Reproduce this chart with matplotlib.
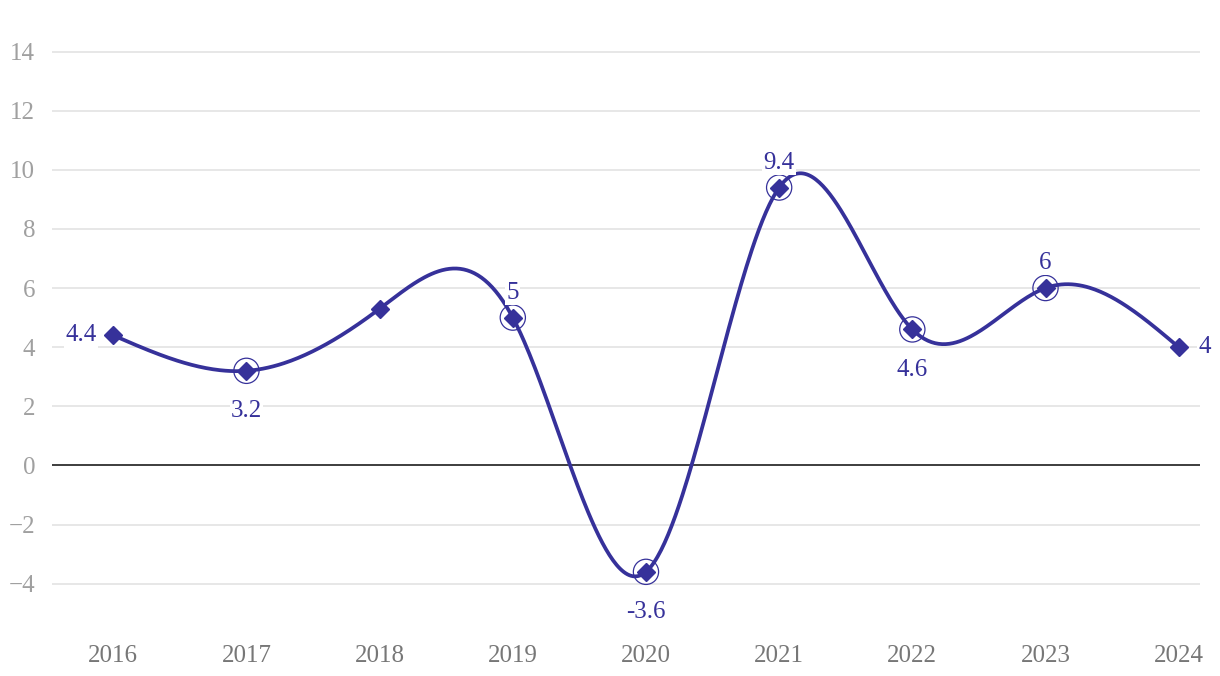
import numpy as np
import matplotlib.pyplot as plt

years = [2016, 2017, 2018, 2019, 2020, 2021, 2022, 2023, 2024]
values = [4.4, 3.2, 5.3, 5.0, -3.6, 9.4, 4.6, 6.0, 4.0]
labels = ['4.4', '3.2', '', '5', '-3.6', '9.4', '4.6', '6', '4']
label_pos = ['left', 'below', None, 'above', 'below', 'above', 'below', 'above', 'right']
circled = [False, True, False, True, True, True, True, True, False]

LINE = '#36319a'


def natural_spline(x, y, n=600):
    # plain natural cubic spline, only used to draw the smooth line
    x = np.asarray(x, float)
    y = np.asarray(y, float)
    k = len(x)
    h = np.diff(x)
    A = np.zeros((k, k))
    b = np.zeros(k)
    A[0, 0] = A[-1, -1] = 1
    for i in range(1, k - 1):
        A[i, i - 1] = h[i - 1]
        A[i, i] = 2 * (h[i - 1] + h[i])
        A[i, i + 1] = h[i]
        b[i] = 3 * ((y[i + 1] - y[i]) / h[i] - (y[i] - y[i - 1]) / h[i - 1])
    c = np.linalg.solve(A, b)
    xs = np.linspace(x[0], x[-1], n)
    idx = np.clip(np.searchsorted(x, xs) - 1, 0, k - 2)
    dx = xs - x[idx]
    hi = h[idx]
    bb = (y[idx + 1] - y[idx]) / hi - hi * (2 * c[idx] + c[idx + 1]) / 3
    d = (c[idx + 1] - c[idx]) / (3 * hi)
    ys = y[idx] + bb * dx + c[idx] * dx ** 2 + d * dx ** 3
    return xs, ys


plt.rcParams['font.family'] = ['Liberation Serif', 'DejaVu Serif']

fig = plt.figure(figsize=(12.2, 6.76), dpi=100)
ax = fig.add_axes([52 / 1220, 1 - 628 / 676, 1148 / 1220, (628 - 22) / 676])

xs, ys = natural_spline(years, values)
ax.plot(xs, ys, color=LINE, lw=2.7, zorder=3, solid_capstyle='round')
ax.plot(years, values, 'D', color=LINE, ms=9.5, zorder=4)

cx = [y for y, c in zip(years, circled) if c]
cy = [v for v, c in zip(values, circled) if c]
ax.scatter(cx, cy, s=330, facecolors='none', edgecolors=LINE, linewidths=0.9, zorder=5)

offsets = {'left': (-12, 0, 'right', 'center'),
           'right': (14, 0, 'left', 'center'),
           'above': (0, 10, 'center', 'bottom'),
           'below': (0, -21, 'center', 'top')}
for yr, v, lab, pos in zip(years, values, labels, label_pos):
    if not lab:
        continue
    dx, dy, ha, va = offsets[pos]
    ax.annotate(lab, (yr, v), xytext=(dx, dy), textcoords='offset points',
                ha=ha, va=va, fontsize=18, color=LINE, zorder=6,
                bbox=dict(boxstyle='square,pad=0.05', fc='white', ec='none'))

ax.axhline(0, color='#222222', lw=1.2, zorder=2)
ax.set_xlim(2015.54, 2024.16)
ax.set_ylim(-5.5, 15)
ax.set_yticks(range(-4, 15, 2))
ax.set_xticks(years)
ax.grid(axis='y', color='#e3e3e3', lw=1.2, zorder=0)
ax.set_axisbelow(True)
for s in ax.spines.values():
    s.set_visible(False)
ax.tick_params(length=0)
ax.tick_params(axis='y', labelsize=18, labelcolor='#a0a0a0', pad=12)
ax.tick_params(axis='x', labelsize=18, labelcolor='#777777', pad=12)

fig.savefig('out.png', dpi=100)
